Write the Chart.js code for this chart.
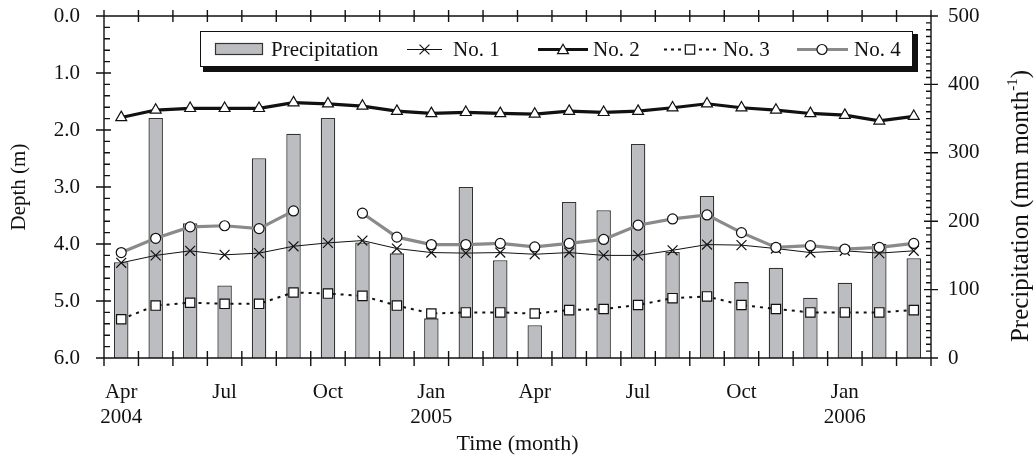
<!DOCTYPE html>
<html>
<head>
<meta charset="utf-8">
<script src="https://cdn.jsdelivr.net/npm/chart.js@4.4.1/dist/chart.umd.min.js"></script>
<style>
html,body{margin:0;padding:0;background:#fff;}
#wrap{width:1035px;height:456px;position:relative;}
</style>
</head>
<body>
<div id="wrap"><canvas id="c" width="1035" height="456"></canvas></div>
<script>
const categories = ['2004-04','2004-05','2004-06','2004-07','2004-08','2004-09','2004-10','2004-11','2004-12',
  '2005-01','2005-02','2005-03','2005-04','2005-05','2005-06','2005-07','2005-08','2005-09','2005-10','2005-11','2005-12',
  '2006-01','2006-02','2006-03'];
const tickLabels = [['Apr','2004'],'','',['Jul'],'','',['Oct'],'','',['Jan','2005'],'','',
  ['Apr'],'','',['Jul'],'','',['Oct'],'','',['Jan','2006'],'',''];
const precipitation = [140,351,197,106,292,328,351,169,153,58,250,143,48,228,216,313,155,237,111,132,88,110,167,146];
const no1 = [4.33,4.20,4.12,4.19,4.16,4.04,3.98,3.94,4.08,4.15,4.16,4.15,4.18,4.15,4.20,4.20,4.11,4.01,4.02,4.08,4.15,4.12,4.16,4.12];
const no2 = [1.78,1.65,1.62,1.62,1.62,1.52,1.54,1.58,1.67,1.71,1.69,1.71,1.72,1.67,1.69,1.67,1.61,1.54,1.61,1.65,1.71,1.74,1.84,1.76];
const no3 = [5.32,5.08,5.03,5.05,5.05,4.85,4.87,4.91,5.08,5.22,5.20,5.20,5.22,5.16,5.14,5.07,4.95,4.92,5.07,5.14,5.20,5.20,5.20,5.16];
const no4 = [4.15,3.90,3.70,3.68,3.73,3.42,null,3.46,3.88,4.01,4.01,3.99,4.05,3.99,3.92,3.67,3.56,3.49,3.80,4.06,4.03,4.09,4.06,3.99];
const depthTicks = [0,1,2,3,4,5,6];
const precipTicks = [0,100,200,300,400,500];

const FONT = '"Liberation Serif", "Times New Roman", serif';
const FS = 21;
const BAR_FILL = '#bcbdc1';
const BAR_EDGE = '#333333';
const GRAY = '#8a8a8a';

const decor = {
  id: 'decor',
  afterDraw(chart) {
    const ctx = chart.ctx, a = chart.chartArea;
    const xs = chart.scales.x, yl = chart.scales.y, yr = chart.scales.y1;
    ctx.save();
    ctx.strokeStyle = '#111';
    ctx.lineWidth = 1.4;
    ctx.lineCap = 'butt';
    ctx.beginPath();
    ctx.moveTo(a.left, a.top); ctx.lineTo(a.right, a.top);
    ctx.moveTo(a.left, a.bottom); ctx.lineTo(a.right, a.bottom);
    ctx.moveTo(a.left, a.top); ctx.lineTo(a.left, a.bottom);
    ctx.moveTo(a.right, a.top); ctx.lineTo(a.right, a.bottom);
    for (let i = 0; i <= 30; i++) {
      const v = i * 0.2;
      const y = yl.getPixelForValue(v);
      if (i % 5 === 0) { ctx.moveTo(a.left - 8, y); ctx.lineTo(a.left + 7, y); }
      else { ctx.moveTo(a.left, y); ctx.lineTo(a.left + 6, y); }
    }
    for (let v = 0; v <= 500; v += 10) {
      const y = yr.getPixelForValue(v);
      if (v % 100 === 0) { ctx.moveTo(a.right - 7, y); ctx.lineTo(a.right + 7, y); }
      else { ctx.moveTo(a.right - 5, y); ctx.lineTo(a.right, y); }
    }
    const half = (xs.getPixelForValue(1) - xs.getPixelForValue(0)) / 2;
    for (let k = 0; k <= categories.length; k++) {
      const x = k < categories.length ? xs.getPixelForValue(k) - half : xs.getPixelForValue(k - 1) + half;
      ctx.moveTo(x, a.top - 6); ctx.lineTo(x, a.top + 6);
      ctx.moveTo(x, a.bottom - 7); ctx.lineTo(x, a.bottom + 8);
    }
    ctx.stroke();

    ctx.fillStyle = '#111';
    ctx.textAlign = 'center';
    ctx.textBaseline = 'middle';
    ctx.font = '22px ' + FONT;
    ctx.fillText('Time (month)', (a.left + a.right) / 2, 444);
    ctx.font = FS + 'px ' + FONT;
    ctx.save();
    ctx.translate(19, (a.top + a.bottom) / 2);
    ctx.rotate(-Math.PI / 2);
    ctx.fillText('Depth (m)', 0, 0);
    ctx.restore();
    ctx.save();
    ctx.translate(1021, 206);
    ctx.rotate(-Math.PI / 2);
    const t1 = 'Precipitation (mm month', t2 = '-1', t3 = ')';
    const big = '25px ' + FONT, small = '15px ' + FONT;
    ctx.font = big;
    const w1 = ctx.measureText(t1).width, w3 = ctx.measureText(t3).width;
    ctx.font = small;
    const w2 = ctx.measureText(t2).width;
    const x0 = -(w1 + w2 + w3) / 2;
    ctx.textAlign = 'left';
    ctx.font = big;
    ctx.fillText(t1, x0, 0);
    ctx.font = small;
    ctx.fillText(t2, x0 + w1, -8);
    ctx.font = big;
    ctx.fillText(t3, x0 + w1 + w2, 0);
    ctx.restore();

    // legend
    const L = 200, T = 31, R = 913, B = 67;
    ctx.fillStyle = '#111';
    ctx.fillRect(L + 3, B, R - L + 2, 5);
    ctx.fillRect(R, T + 3, 5, B - T + 2);
    ctx.fillStyle = '#fff';
    ctx.fillRect(L, T, R - L, B - T);
    ctx.lineWidth = 1;
    ctx.strokeStyle = '#111';
    ctx.strokeRect(L + 0.5, T + 0.5, R - L - 1, B - T - 1);
    const cy = 49.5;
    ctx.fillStyle = BAR_FILL;
    ctx.fillRect(215, 43, 48, 12);
    ctx.strokeStyle = BAR_EDGE; ctx.lineWidth = 1.2;
    ctx.strokeRect(215.5, 43.5, 47, 11);
    ctx.fillStyle = '#111';
    ctx.font = FS + 'px ' + FONT;
    ctx.textAlign = 'left';
    ctx.textBaseline = 'middle';
    ctx.fillText('Precipitation', 271, cy + 1);
    ctx.strokeStyle = '#111'; ctx.lineWidth = 1;
    ctx.beginPath(); ctx.moveTo(407, cy); ctx.lineTo(442, cy); ctx.stroke();
    ctx.lineWidth = 1.2;
    Chart.helpers.drawPoint(ctx, {pointStyle: 'crossRot', radius: 7, borderWidth: 1.2}, 424.5, cy);
    ctx.fillText('No. 1', 453, cy + 1);
    ctx.strokeStyle = '#111'; ctx.lineWidth = 3.2;
    ctx.beginPath(); ctx.moveTo(538, cy); ctx.lineTo(588, cy); ctx.stroke();
    ctx.fillStyle = '#fff'; ctx.strokeStyle = '#111'; ctx.lineWidth = 1.2;
    Chart.helpers.drawPoint(ctx, {pointStyle: 'triangle', radius: 6.3, borderWidth: 1.2}, 563, cy + 1);
    ctx.fillStyle = '#111';
    ctx.fillText('No. 2', 593, cy + 1);
    ctx.strokeStyle = '#111'; ctx.lineWidth = 2;
    ctx.setLineDash([3, 4]);
    ctx.beginPath(); ctx.moveTo(664, cy); ctx.lineTo(716, cy); ctx.stroke();
    ctx.setLineDash([]);
    ctx.fillStyle = '#fff'; ctx.lineWidth = 1.2;
    Chart.helpers.drawPoint(ctx, {pointStyle: 'rect', radius: 6.6, borderWidth: 1.2}, 690, cy);
    ctx.fillStyle = '#111';
    ctx.fillText('No. 3', 723, cy + 1);
    ctx.strokeStyle = GRAY; ctx.lineWidth = 3.2;
    ctx.beginPath(); ctx.moveTo(797, cy); ctx.lineTo(848, cy); ctx.stroke();
    ctx.fillStyle = '#fff'; ctx.strokeStyle = '#111'; ctx.lineWidth = 1.2;
    Chart.helpers.drawPoint(ctx, {pointStyle: 'circle', radius: 5, borderWidth: 1.2}, 822, cy);
    ctx.fillStyle = '#111';
    ctx.fillText('No. 4', 854, cy + 1);
    ctx.restore();
  }
};

new Chart(document.getElementById('c'), {
  type: 'bar',
  data: {
    labels: categories,
    datasets: [
      { type: 'line', label: 'No. 1', data: no1, yAxisID: 'y', order: 3,
        borderColor: '#111', borderWidth: 1, tension: 0,
        pointStyle: 'crossRot', pointRadius: 7, pointBorderWidth: 1.2, pointBorderColor: '#111', pointBackgroundColor: '#111' },
      { type: 'line', label: 'No. 2', data: no2, yAxisID: 'y', order: 1,
        borderColor: '#111', borderWidth: 3.2, tension: 0,
        pointStyle: 'triangle', pointRadius: 6.3, pointBorderWidth: 1.2, pointBorderColor: '#111', pointBackgroundColor: '#fff' },
      { type: 'line', label: 'No. 3', data: no3, yAxisID: 'y', order: 2,
        borderColor: '#111', borderWidth: 2, borderDash: [3, 5], tension: 0,
        pointStyle: 'rect', pointRadius: 6.6, pointBorderWidth: 1.2, pointBorderColor: '#111', pointBackgroundColor: '#fff' },
      { type: 'line', label: 'No. 4', data: no4, yAxisID: 'y', order: 0, spanGaps: false,
        borderColor: GRAY, borderWidth: 3.2, tension: 0,
        pointStyle: 'circle', pointRadius: 5, pointBorderWidth: 1.2, pointBorderColor: '#111', pointBackgroundColor: '#fff' },
      { type: 'bar', label: 'Precipitation', data: precipitation, yAxisID: 'y1', order: 10,
        backgroundColor: BAR_FILL, borderColor: BAR_EDGE, borderWidth: 1.3,
        barPercentage: 0.42, categoryPercentage: 1.0 }
    ]
  },
  options: {
    responsive: false,
    animation: false,
    devicePixelRatio: 1,
    layout: { padding: { top: 16, left: 0, right: 0, bottom: 0 } },
    plugins: { legend: { display: false }, tooltip: { enabled: false } },
    scales: {
      x: {
        type: 'category', offset: true,
        grid: { display: false, drawTicks: false }, border: { display: false },
        ticks: { autoSkip: false, maxRotation: 0, minRotation: 0, padding: 22, color: '#111',
          font: { family: FONT, size: FS, lineHeight: 1.2 },
          callback: (v, i) => tickLabels[i] },
        afterFit: s => { s.height = 98; s.paddingLeft = 0; s.paddingRight = 0; }
      },
      y: {
        position: 'left', reverse: true, min: 0, max: 6,
        afterBuildTicks: s => { s.ticks = depthTicks.map(v => ({ value: v })); },
        grid: { display: false, drawTicks: false }, border: { display: false },
        ticks: { padding: 24, color: '#111', font: { family: FONT, size: FS },
          callback: v => Number(v).toFixed(1) },
        afterFit: s => { s.width = 104; s.paddingTop = 0; s.paddingBottom = 0; }
      },
      y1: {
        position: 'right', min: 0, max: 500,
        afterBuildTicks: s => { s.ticks = precipTicks.map(v => ({ value: v })); },
        grid: { display: false, drawTicks: false }, border: { display: false },
        ticks: { padding: 17, color: '#111', font: { family: FONT, size: FS } },
        afterFit: s => { s.width = 104; s.paddingTop = 0; s.paddingBottom = 0; }
      }
    }
  },
  plugins: [decor]
});
</script>
</body>
</html>
